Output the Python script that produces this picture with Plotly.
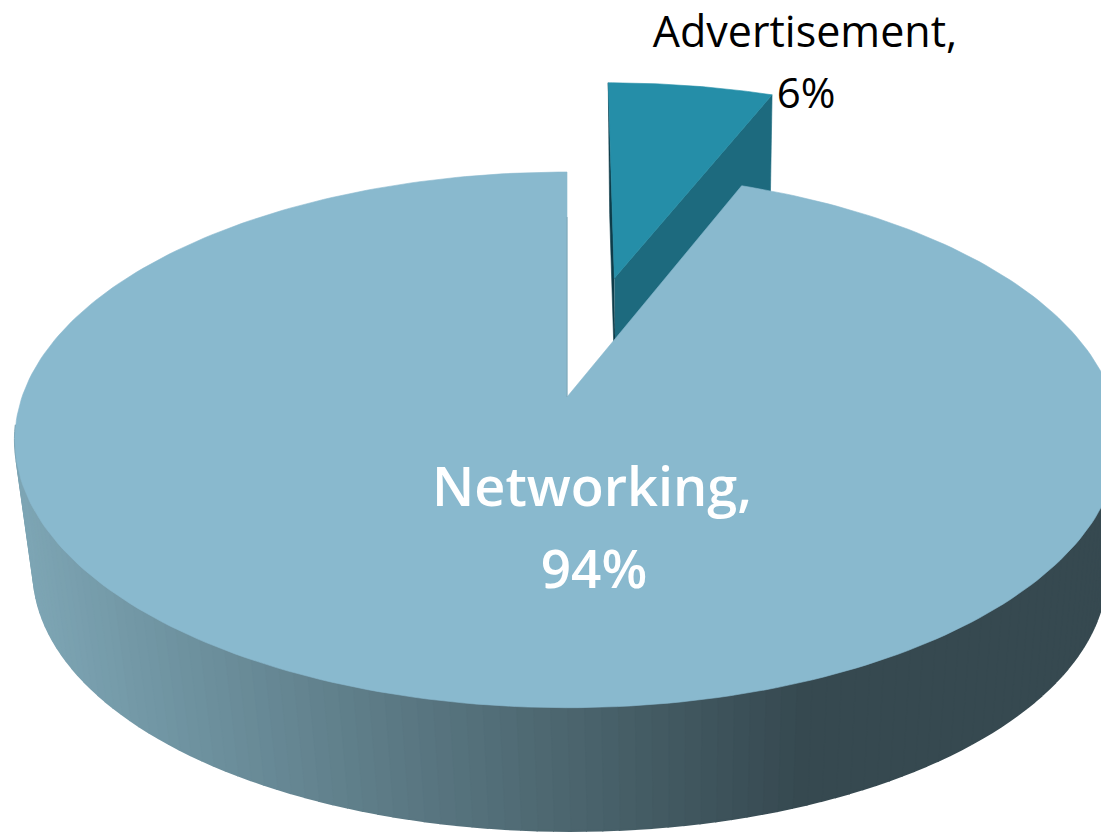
import numpy as np
import plotly.graph_objects as go

# Chart data
categories = ["Networking", "Advertisement"]
shares = [94, 6]

# Colours
TOP_NETWORKING = "#89b9ce"
TOP_ADVERT = "#258ea8"
SIDE_ADVERT = "#1d6a7e"
WALL_ADVERT = "#0e3c49"
SIDE_LIGHT = np.array([125, 165, 180])
SIDE_DARK = np.array([54, 73, 80])

# Perspective camera for the tilted disc
CX, CY = 567.0, 397.0
RX, RY = 545.0, 261.0
TILT = 0.16
SHRINK_X = 0.028
SHRINK_Y = 0.097
DEPTH_DROP = 145.6
DEPTH_SHIFT = 3.0
EXPLODE = 0.5


def project(u, v, z=0.0):
    """Map disc-plane coordinates (u right, v back, z down) to the page."""
    base = 1 + TILT * v
    x = CX + (RX * u + DEPTH_SHIFT * z) / (base + SHRINK_X * z)
    y = CY + (-RY * v + DEPTH_DROP * z) / (base + SHRINK_Y * z)
    return x, y


def rim(theta_deg, z=0.0, offset=(0.0, 0.0)):
    t = np.radians(theta_deg)
    return project(np.sin(t) + offset[0], np.cos(t) + offset[1], z)


def polygon(xs, ys, colour, width=0.6):
    return go.Scatter(
        x=xs, y=ys, mode="lines", fill="toself", fillcolor=colour,
        line=dict(color=colour, width=width),
        hoverinfo="skip", showlegend=False,
    )


advert_sweep = 360 * shares[1] / sum(shares)
mid = np.radians(advert_sweep / 2)
advert_offset = (EXPLODE * np.sin(mid), EXPLODE * np.cos(mid))

fig = go.Figure()

# Detached slice: walls first, then its top face
tip_top = project(*advert_offset)
tip_bot = project(*advert_offset, 1.0)
a0_top, a0_bot = rim(0, 0, advert_offset), rim(0, 1, advert_offset)
a1_top, a1_bot = rim(advert_sweep, 0, advert_offset), rim(advert_sweep, 1, advert_offset)
fig.add_trace(polygon(
    [tip_top[0], a0_top[0], a0_bot[0], tip_bot[0]],
    [tip_top[1], a0_top[1], a0_bot[1], tip_bot[1]], WALL_ADVERT))
fig.add_trace(polygon(
    [tip_top[0], a1_top[0], a1_bot[0], tip_bot[0]],
    [tip_top[1], a1_top[1], a1_bot[1], tip_bot[1]], SIDE_ADVERT))
arc = np.linspace(0, advert_sweep, 40)
ax, ay = rim(arc, 0, advert_offset)
fig.add_trace(polygon(
    np.r_[tip_top[0], ax, tip_top[0]], np.r_[tip_top[1], ay, tip_top[1]], TOP_ADVERT))

# Main slice: rim wall as thin strips shaded from left to right
edges = np.linspace(96, 264, 113)
for a, b in zip(edges[:-1], edges[1:]):
    xa, ya = rim(a)
    xb, yb = rim(b)
    xc, yc = rim(b, 1)
    xd, yd = rim(a, 1)
    mean_x = (xa + xb + xc + xd) / 4
    frac = np.clip((mean_x - 30) / (800 - 30), 0, 1)
    c = SIDE_LIGHT + (SIDE_DARK - SIDE_LIGHT) * frac
    colour = "rgb({:.0f},{:.0f},{:.0f})".format(*c)
    fig.add_trace(polygon([xa, xb, xc, xd], [ya, yb, yc, yd], colour, width=2))

# Main slice: top face
arc = np.linspace(advert_sweep, 360, 300)
bx, by = rim(arc)
fig.add_trace(polygon(
    np.r_[CX, bx, CX], np.r_[CY, by, CY], TOP_NETWORKING))

# Shaded cut edge of the main slice
ex, ey = rim(360)
fig.add_trace(go.Scatter(
    x=[CX, CX], y=[ey + (CY - ey) * 0.2, CY],
    mode="lines", line=dict(color="#7da6b7", width=1),
    hoverinfo="skip", showlegend=False))

fig.update_layout(
    width=1101, height=832,
    margin=dict(l=0, r=0, t=0, b=0),
    paper_bgcolor="white", plot_bgcolor="white",
    xaxis=dict(visible=False, range=[0, 1101], fixedrange=True),
    yaxis=dict(visible=False, range=[832, 0], fixedrange=True),
    showlegend=False,
)


def label(text, x, y, size, colour, weight=400):
    fig.add_trace(go.Scatter(
        x=[x], y=[y], mode="text", text=[text], textposition="middle center",
        textfont=dict(size=size, color=colour, family="Open Sans", weight=weight),
        hoverinfo="skip", showlegend=False, cliponaxis=False,
    ))


label(f"{categories[1]},", 805, 36, 43, "black")
label(f"{shares[1]}%", 806, 97, 42, "black")
label(f"{categories[0]},", 592, 492, 54, "white", 600)
label(f"{shares[0]}%", 594, 575, 53, "white", 600)

fig.write_html("out.html")
